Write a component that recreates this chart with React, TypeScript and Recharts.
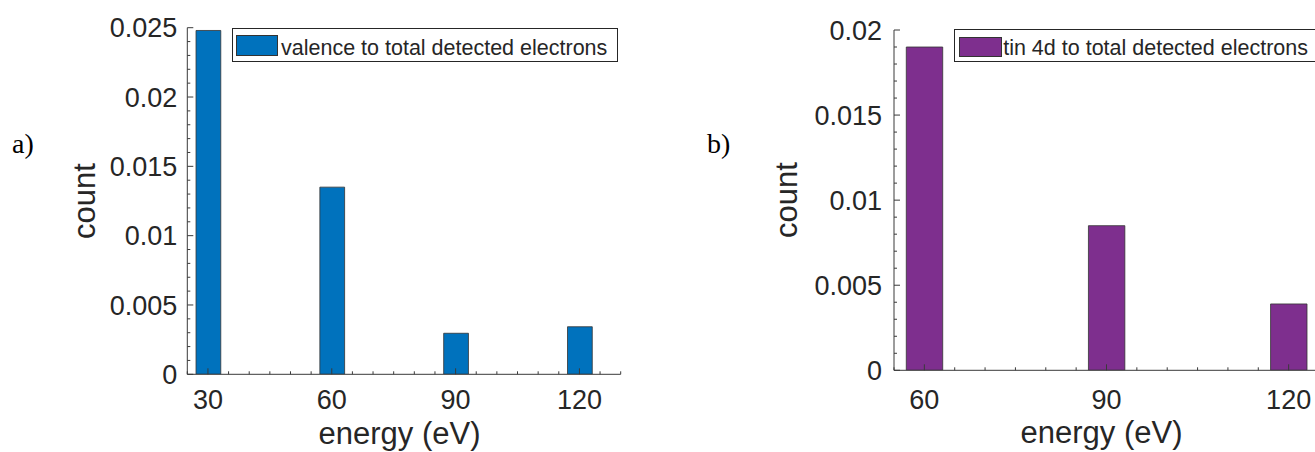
import React from 'react';
import { BarChart, Bar, XAxis, YAxis, Legend, Label } from 'recharts';

// ---------- data ----------
const energiesA = [30, 60, 90, 120];
const valenceRatio = [0.0248, 0.0135, 0.00296, 0.00343];
const seriesNameA = 'valence to total detected electrons';

const energiesB = [60, 90, 120];
const tinRatio = [0.0190, 0.0085, 0.0039];
const seriesNameB = 'tin 4d to total detected electrons';

// ---------- ticks ----------
const xMajorA = [30, 60, 90, 120];
const xTicksA = [25, 30, 35, 40, 45, 50, 55, 60, 65, 70, 75, 80, 85, 90, 95, 100, 105, 110, 115, 120, 125, 130];
const yMajorA = [0, 0.005, 0.01, 0.015, 0.02, 0.025];
const yTicksA = [0, 0.001, 0.002, 0.003, 0.004, 0.005, 0.006, 0.007, 0.008, 0.009, 0.01, 0.011, 0.012, 0.013,
  0.014, 0.015, 0.016, 0.017, 0.018, 0.019, 0.02, 0.021, 0.022, 0.023, 0.024, 0.025];

const xMajorB = [60, 90, 120];
const xTicksB = [55, 60, 65, 70, 75, 80, 85, 90, 95, 100, 105, 110, 115, 120, 125];
const yMajorB = [0, 0.005, 0.01, 0.015, 0.02];
const yTicksB = [0, 0.001, 0.002, 0.003, 0.004, 0.005, 0.006, 0.007, 0.008, 0.009, 0.01, 0.011, 0.012, 0.013,
  0.014, 0.015, 0.016, 0.017, 0.018, 0.019, 0.02];

const FONT = '"Liberation Sans", Arial, Helvetica, sans-serif';
const TEXT = '#262626';
const AXIS = '#3a3a3a';
const TICK_FS = 27;
const TITLE_FS = 31;
const LEGEND_FS = 21.5;

const isMajor = (v: number, majors: number[]) => majors.some((m) => Math.abs(m - v) < 1e-9);

const BottomTick = (p: any) => {
  const { x, y, payload, majors, dy } = p;
  const major = isMajor(payload.value, majors);
  return (
    <g>
      <line x1={x} x2={x} y1={y} y2={y - (major ? 6 : 3)} stroke={AXIS} strokeWidth={1} />
      {major && (
        <text x={x} y={y + dy} textAnchor="middle" fontSize={TICK_FS} fontFamily={FONT} fill={TEXT}>
          {String(payload.value)}
        </text>
      )}
    </g>
  );
};

const TopTick = (p: any) => {
  const { x, y, payload, majors } = p;
  const major = isMajor(payload.value, majors);
  return <line x1={x} x2={x} y1={y} y2={y + (major ? 6 : 3)} stroke={AXIS} strokeWidth={1} />;
};

const LeftTick = (p: any) => {
  const { x, y, payload, majors, gap } = p;
  const major = isMajor(payload.value, majors);
  return (
    <g>
      <line x1={x} x2={x + (major ? 6 : 3)} y1={y} y2={y} stroke={AXIS} strokeWidth={1} />
      {major && (
        <text x={x - gap} y={y + TICK_FS * 0.36} textAnchor="end" fontSize={TICK_FS} fontFamily={FONT} fill={TEXT}>
          {String(payload.value)}
        </text>
      )}
    </g>
  );
};

const RightTick = (p: any) => {
  const { x, y, payload, majors } = p;
  const major = isMajor(payload.value, majors);
  return <line x1={x} x2={x - (major ? 6 : 3)} y1={y} y2={y} stroke={AXIS} strokeWidth={1} />;
};

type PanelCfg = {
  left: number;
  width: number;
  plot: { l: number; t: number; r: number; b: number };
  energies: number[];
  values: number[];
  name: string;
  color: string;
  xDomain: [number, number];
  xTicks: number[];
  xMajor: number[];
  yDomain: [number, number];
  yTicks: number[];
  yMajor: number[];
  xLabelDy: number;
  yLabelGap: number;
  titleDy: number;
  titleDx: number;
  countDx: number;
  legend: { l: number; t: number; w: number; h: number; sw: { l: number; t: number; w: number; h: number }; textL: number; textBase: number };
};

const BAR_UNITS = 6;

function Panel({ cfg }: { cfg: PanelCfg }) {
  const H = 452;
  const plotW = cfg.plot.r - cfg.plot.l;
  const barSize = (plotW * BAR_UNITS) / (cfg.xDomain[1] - cfg.xDomain[0]);
  const data = cfg.energies.map((e, i) => ({ energy: e, value: cfg.values[i] }));
  const L = cfg.legend;
  return (
    <div style={{ position: 'absolute', left: cfg.left, top: 0, width: cfg.width, height: H }}>
      <BarChart
        width={cfg.width}
        height={H}
        data={data}
        margin={{ top: cfg.plot.t, left: 0, right: cfg.width - cfg.plot.r, bottom: 0 }}
      >
        <XAxis
          dataKey="energy"
          type="number"
          domain={cfg.xDomain}
          ticks={cfg.xTicks}
          interval={0}
          allowDataOverflow
          height={H - cfg.plot.b}
          tickLine={false}
          tickSize={0}
          tickMargin={0}
          axisLine={{ stroke: AXIS, strokeWidth: 1 }}
          tick={(p: any) => <BottomTick {...p} majors={cfg.xMajor} dy={cfg.xLabelDy} />}
        >
          <Label
            content={(lp: any) => {
              const vb = lp.viewBox;
              return (
                <text
                  x={vb.x + vb.width / 2 + cfg.titleDx}
                  y={vb.y + cfg.titleDy}
                  textAnchor="middle"
                  fontSize={TITLE_FS}
                  fontFamily={FONT}
                  fill={TEXT}
                >
                  energy (eV)
                </text>
              );
            }}
          />
        </XAxis>
        <XAxis
          xAxisId="top"
          orientation="top"
          dataKey="energy"
          type="number"
          domain={cfg.xDomain}
          ticks={cfg.xTicks}
          interval={0}
          allowDataOverflow
          height={0}
          tickLine={false}
          tickSize={0}
          tickMargin={0}
          axisLine={{ stroke: AXIS, strokeWidth: 1 }}
          tick={(p: any) => <TopTick {...p} majors={cfg.xMajor} />}
        />
        <YAxis
          type="number"
          domain={cfg.yDomain}
          ticks={cfg.yTicks}
          interval={0}
          allowDataOverflow
          width={cfg.plot.l}
          tickLine={false}
          tickSize={0}
          tickMargin={0}
          axisLine={{ stroke: AXIS, strokeWidth: 1 }}
          tick={(p: any) => <LeftTick {...p} majors={cfg.yMajor} gap={cfg.yLabelGap} />}
        >
          <Label
            content={(lp: any) => {
              const vb = lp.viewBox;
              const cx = cfg.plot.l - cfg.countDx;
              const cy = vb.y + vb.height / 2;
              return (
                <text
                  x={cx}
                  y={cy}
                  textAnchor="middle"
                  transform={`rotate(-90, ${cx}, ${cy})`}
                  fontSize={TITLE_FS}
                  fontFamily={FONT}
                  fill={TEXT}
                >
                  count
                </text>
              );
            }}
          />
        </YAxis>
        <YAxis
          yAxisId="right"
          orientation="right"
          type="number"
          domain={cfg.yDomain}
          ticks={cfg.yTicks}
          interval={0}
          allowDataOverflow
          width={0}
          tickLine={false}
          tickSize={0}
          tickMargin={0}
          axisLine={{ stroke: AXIS, strokeWidth: 1 }}
          tick={(p: any) => <RightTick {...p} majors={cfg.yMajor} />}
        />
        <Legend
          layout="horizontal"
          verticalAlign="middle"
          align="center"
          wrapperStyle={{ position: 'absolute', left: L.l, top: L.t, width: L.w, height: L.h, margin: 0, padding: 0 }}
          content={(lp: any) => {
            const item = (lp.payload && lp.payload[0]) || { color: cfg.color, value: cfg.name };
            return (
              <div
                style={{
                  position: 'relative',
                  boxSizing: 'border-box',
                  width: L.w,
                  height: L.h,
                  border: `1px solid ${TEXT}`,
                  background: '#fff',
                }}
              >
                <div
                  style={{
                    position: 'absolute',
                    left: L.sw.l,
                    top: L.sw.t,
                    width: L.sw.w,
                    height: L.sw.h,
                    background: item.color || cfg.color,
                    border: '1px solid #333',
                    boxSizing: 'border-box',
                  }}
                />
                <span
                  style={{
                    position: 'absolute',
                    left: L.textL,
                    top: L.textBase - LEGEND_FS * 0.8465,
                    fontSize: LEGEND_FS,
                    lineHeight: 1,
                    fontFamily: FONT,
                    color: TEXT,
                    whiteSpace: 'nowrap',
                  }}
                >
                  {item.value}
                </span>
              </div>
            );
          }}
        />
        <Bar
          dataKey="value"
          name={cfg.name}
          fill={cfg.color}
          stroke="#333"
          strokeWidth={0.8}
          barSize={barSize}
          isAnimationActive={false}
        />
      </BarChart>
    </div>
  );
}

const panelA: PanelCfg = {
  left: 0,
  width: 660,
  plot: { l: 187.3, t: 27.7, r: 620.7, b: 374.3 },
  energies: energiesA,
  values: valenceRatio,
  name: seriesNameA,
  color: '#0072BD',
  xDomain: [25, 130],
  xTicks: xTicksA,
  xMajor: xMajorA,
  yDomain: [0, 0.025],
  yTicks: yTicksA,
  yMajor: yMajorA,
  xLabelDy: 35,
  yLabelGap: 10,
  titleDy: 70,
  titleDx: -4.5,
  countDx: 92,
  legend: { l: 232, t: 28.3, w: 386.3, h: 33.4, sw: { l: 3, t: 5.5, w: 42, h: 21 }, textL: 48, textBase: 26.5 },
};

const panelB: PanelCfg = {
  left: 700,
  width: 700,
  plot: { l: 194, t: 30, r: 619, b: 370.3 },
  energies: energiesB,
  values: tinRatio,
  name: seriesNameB,
  color: '#7E2F8E',
  xDomain: [55, 125],
  xTicks: xTicksB,
  xMajor: xMajorB,
  yDomain: [0, 0.02],
  yTicks: yTicksB,
  yMajor: yMajorB,
  xLabelDy: 39,
  yLabelGap: 12,
  titleDy: 73,
  titleDx: -5,
  countDx: 97,
  legend: { l: 253.7, t: 29.3, w: 390, h: 32.4, sw: { l: 4, t: 7, w: 43, h: 19.5 }, textL: 48.5, textBase: 26 },
};

export default function App() {
  return (
    <div
      style={{
        position: 'absolute',
        left: 0,
        top: 0,
        width: 1315,
        height: 452,
        overflow: 'hidden',
        background: '#fff',
      }}
    >
      <Panel cfg={panelA} />
      <Panel cfg={panelB} />
      <svg
        width={1315}
        height={452}
        style={{ position: 'absolute', left: 0, top: 0, pointerEvents: 'none' }}
      >
        <text x={12} y={153} fontSize={28} fontFamily='"Liberation Serif", "Times New Roman", serif' fill="#000">
          a)
        </text>
        <text x={707} y={153} fontSize={28} fontFamily='"Liberation Serif", "Times New Roman", serif' fill="#000">
          b)
        </text>
      </svg>
    </div>
  );
}
